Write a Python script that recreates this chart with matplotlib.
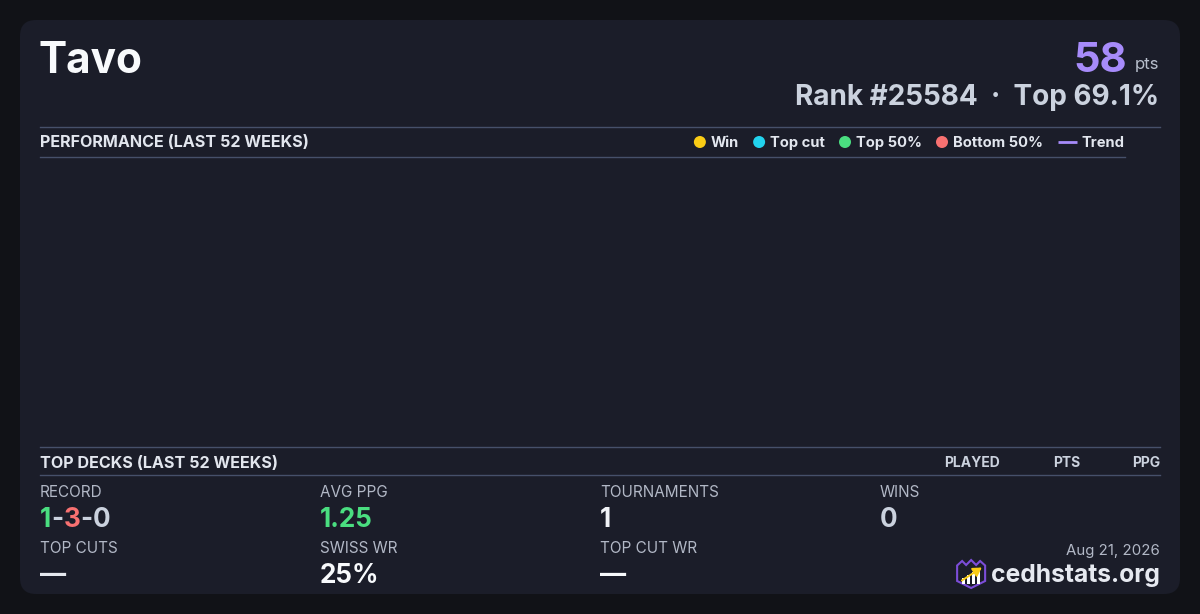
import matplotlib
matplotlib.use("Agg")
import matplotlib.pyplot as plt
from matplotlib.patches import FancyBboxPatch, Circle, Polygon, Rectangle, FancyArrowPatch

# ---------------- data ----------------
player_name = "Tavo"
total_points = 58
rank = 25584
top_percent = 69.1
legend_labels = ["Win", "Top cut", "Top 50%", "Bottom 50%", "Trend"]
legend_colors = ["#facc15", "#22d3ee", "#4ade80", "#f87171", "#a78bfa"]
deck_headers = ["PLAYED", "PTS", "PPG"]
record_wld = [1, 3, 0]
record_colors = ["#4ade80", "#f87171", "#cbd2de"]
avg_ppg = 1.25
tournaments = 1
wins = 0
top_cuts = None
swiss_wr = 25
top_cut_wr = None
date_text = "Aug 21, 2026"
site = "cedhstats.org"

W, H = 1200, 614
FONT = ["Inter", "DejaVu Sans"]
plt.rcParams["font.family"] = FONT

fig = plt.figure(figsize=(W / 100, H / 100), dpi=100, facecolor="#111217")
ax = fig.add_axes([0, 0, 1, 1])
ax.set_xlim(0, W)
ax.set_ylim(H, 0)
ax.axis("off")
ax.set_facecolor("#111217")

# card
card = FancyBboxPatch((20, 20), 1160, 574, boxstyle="round,pad=0,rounding_size=16",
                      facecolor="#1b1d29", edgecolor="none")
ax.add_patch(card)

fig.canvas.draw()
renderer = fig.canvas.get_renderer()


def txt(x, y, s, size, color, weight="normal", ha="left"):
    return ax.text(x, y, s, fontsize=size, color=color, fontweight=weight, ha=ha,
                   va="baseline", family=FONT)


def width(t):
    bb = t.get_window_extent(renderer=renderer)
    return bb.width


# header
txt(38.5, 73, player_name, 30.5, "#f8fafc", "bold")
t_pts = txt(1159, 69, "pts", 12, "#b8bfcc", ha="right")
txt(1159 - width(t_pts) - 7, 72, f"{total_points}", 30, legend_colors[4], "bold", ha="right")
txt(1159, 105, f"Rank #{rank}  ·  Top {top_percent}%", 20.1, "#cbd2de", "bold", ha="right")

line_c = "#46506a"
ax.plot([40, 1160], [126.5, 126.5], color=line_c, lw=1)
ax.plot([40, 1125], [156.5, 156.5], color=line_c, lw=1)
txt(40, 147, "PERFORMANCE (LAST 52 WEEKS)", 11.6, "#e2e6ee", "bold")

# legend laid out right-to-left from right edge
cur = 1124
for lab, col in reversed(list(zip(legend_labels, legend_colors))):
    t = txt(cur, 147, lab, 10.6, "#e2e6ee", "bold", ha="right")
    start_text = cur - width(t)
    if lab == "Trend":
        ax.plot([start_text - 23, start_text - 4], [142, 142], color=col, lw=2, solid_capstyle="butt")
        cur = start_text - 23 - 15
    else:
        ax.add_patch(Circle((start_text - 11, 142), 6, facecolor=col, edgecolor="none"))
        cur = start_text - 17 - 14

# top decks section
ax.plot([40, 1160], [446.5, 446.5], color=line_c, lw=1)
ax.plot([40, 1160], [474.5, 474.5], color=line_c, lw=1)
txt(40, 468, "TOP DECKS (LAST 52 WEEKS)", 11.6, "#e2e6ee", "bold")
hdr_right = [1000, 1080, 1160]
for h, xr in zip(deck_headers, hdr_right):
    txt(xr, 467, h, 10, "#cbd2de", "bold", ha="right")

# stats grid
label_c = "#b2b8c6"
col_x = [40, 320, 600, 880]
row1_lab, row1_val = 497, 527
row2_lab, row2_val = 553, 583
VS = 18.8
LS = 11

txt(col_x[0], row1_lab, "RECORD", LS, label_c)
cx = col_x[0]
for i, v in enumerate(record_wld):
    t = txt(cx, row1_val, str(v), VS, record_colors[i], "bold")
    cx += width(t)
    if i < len(record_wld) - 1:
        t = txt(cx, row1_val, "-", VS, "#cbd2de", "bold")
        cx += width(t)

txt(col_x[1], row1_lab, "AVG PPG", LS, label_c)
txt(col_x[1], row1_val, f"{avg_ppg:.2f}", VS, "#4ade80", "bold")
txt(col_x[2], row1_lab, "TOURNAMENTS", LS, label_c)
txt(col_x[2], row1_val, f"{tournaments}", VS, "#f1f3f7", "bold")
txt(col_x[3], row1_lab, "WINS", LS, label_c)
txt(col_x[3], row1_val, f"{wins}", VS, "#cbd2de", "bold")

txt(col_x[0], row2_lab, "TOP CUTS", LS, label_c)
txt(col_x[0], row2_val, "—" if top_cuts is None else str(top_cuts), VS, "#e6e9ef", "bold")
txt(col_x[1], row2_lab, "SWISS WR", LS, label_c)
txt(col_x[1], row2_val, f"{swiss_wr}%", VS, "#f8fafc", "bold")
txt(col_x[2], row2_lab, "TOP CUT WR", LS, label_c)
txt(col_x[2], row2_val, "—" if top_cut_wr is None else f"{top_cut_wr}%", VS, "#f8fafc", "bold")

# footer
txt(1160, 555, date_text, 10.8, label_c, ha="right")
t_site = txt(1160, 582, site, 17.8, "#e6e9f0", "bold", ha="right")
sx = 1160 - width(t_site) - 6

# logo (shield with crown, bars, arrow)
lx0 = sx - 28
shield = [(lx0, 565.5), (lx0 + 5, 561), (lx0 + 9, 565), (lx0 + 14, 560), (lx0 + 19, 565),
          (lx0 + 23, 561), (lx0 + 28, 565.5), (lx0 + 28, 581), (lx0 + 14, 588), (lx0, 581)]
ax.add_patch(Polygon(shield, closed=True, facecolor="#1b1d29", edgecolor="#7c4dd8", lw=1.5))
bar_h = [6, 9, 12, 14]
for i, bh in enumerate(bar_h):
    ax.add_patch(Rectangle((lx0 + 4.5 + i * 5, 584 - bh), 3.4, bh, facecolor="white", edgecolor="none"))
ax.add_patch(FancyArrowPatch((lx0 + 2.5, 582), (lx0 + 27, 566),
                             arrowstyle="-|>,head_length=5,head_width=3",
                             color="#facc15", lw=1.4, mutation_scale=1.0))

fig.savefig("out.png", dpi=100, facecolor=fig.get_facecolor())
